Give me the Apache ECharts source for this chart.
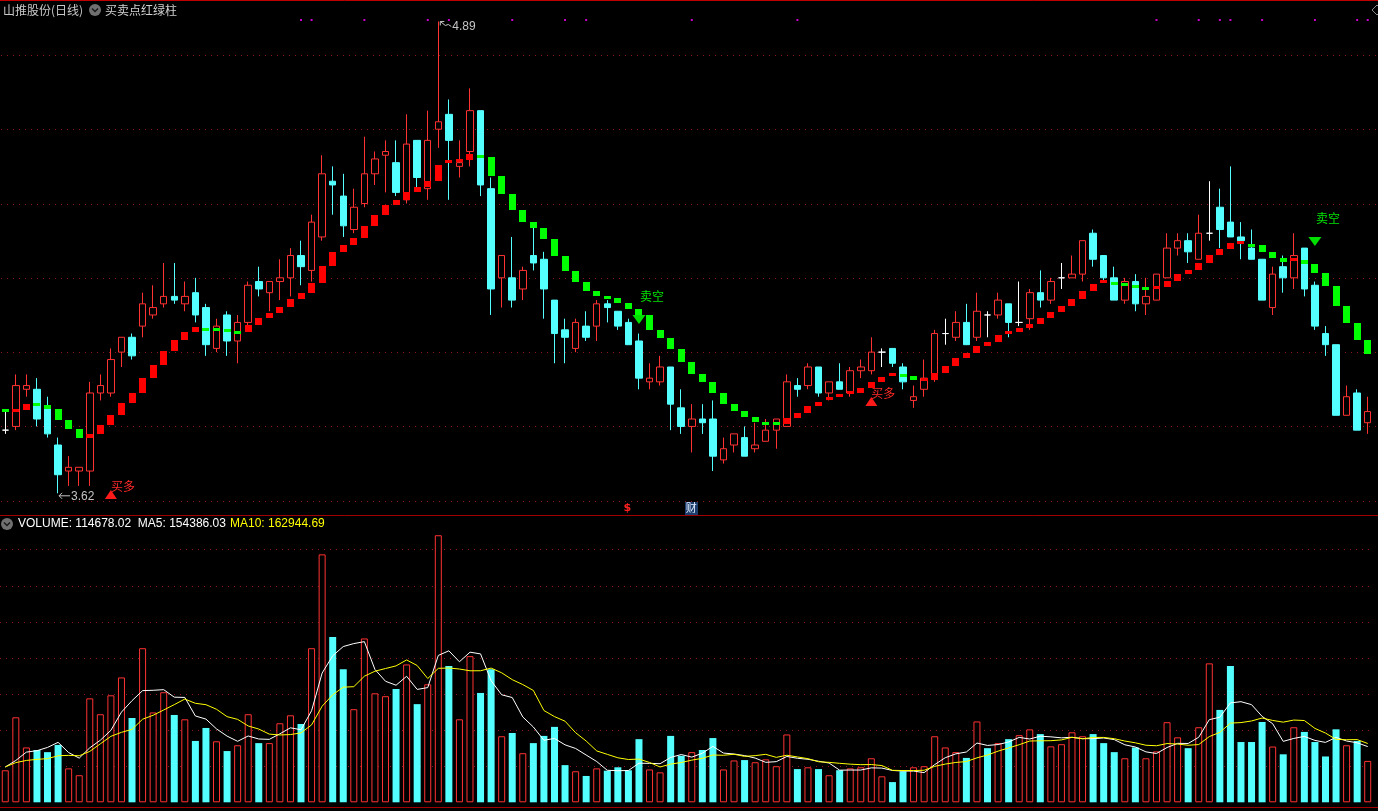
<!DOCTYPE html>
<html><head><meta charset="utf-8">
<script src="https://cdn.jsdelivr.net/npm/echarts@6/dist/echarts.min.js"></script>
<style>html,body{margin:0;padding:0;background:#000;}#c{width:1378px;height:811px;}</style>
</head><body><div id="c"></div>
<script>
// ---------------- data ----------------
const days = Array.from({length: 130}, (_, i) => 'D' + (i + 1));

const openP = [3.79,3.80,3.90,3.90,3.85,3.75,3.68,3.68,3.68,3.89,
3.89,4.00,4.04,4.07,4.10,4.13,4.15,4.13,4.16,4.12,
4.01,4.10,4.03,4.08,4.19,4.16,4.19,4.20,4.26,4.22,
4.31,4.46,4.42,4.33,4.40,4.48,4.53,4.51,4.41,4.57,
4.44,4.60,4.64,4.50,4.54,4.65,4.44,4.20,4.20,4.17,
4.26,4.25,4.14,4.06,4.01,4.07,4.07,4.13,4.11,4.08,
4.03,3.92,3.92,3.96,3.85,3.80,3.82,3.82,3.71,3.75,
3.77,3.74,3.76,3.79,3.80,3.91,3.91,3.96,3.89,3.92,
3.89,3.95,3.95,4.00,4.01,3.96,3.87,3.90,3.93,4.05,
4.04,4.08,4.04,4.10,4.10,4.13,4.08,4.09,4.16,4.14,
4.20,4.20,4.21,4.32,4.26,4.20,4.14,4.19,4.13,4.14,
4.20,4.28,4.30,4.25,4.32,4.39,4.35,4.31,4.28,4.25,
4.12,4.23,4.20,4.28,4.18,4.05,4.02,3.83,3.89,3.81];

const closeP = [3.79,3.91,3.91,3.82,3.78,3.67,3.69,3.69,3.89,3.91,
3.98,4.04,3.99,4.13,4.12,4.15,4.14,4.15,4.10,4.02,
4.07,4.03,4.08,4.18,4.17,4.19,4.20,4.26,4.23,4.35,
4.48,4.45,4.34,4.39,4.48,4.52,4.54,4.43,4.56,4.47,
4.57,4.62,4.57,4.51,4.65,4.45,4.17,4.26,4.14,4.22,
4.24,4.17,4.05,4.04,4.08,4.04,4.13,4.12,4.07,4.02,
3.93,3.93,3.96,3.86,3.80,3.82,3.81,3.72,3.74,3.78,
3.72,3.75,3.79,3.82,3.92,3.90,3.96,3.89,3.92,3.90,
3.95,3.96,4.00,4.00,3.97,3.92,3.88,3.93,4.05,4.05,
4.08,4.02,4.11,4.10,4.14,4.08,4.08,4.16,4.14,4.19,
4.20,4.21,4.30,4.25,4.20,4.14,4.19,4.13,4.15,4.21,
4.28,4.30,4.27,4.32,4.32,4.33,4.31,4.30,4.25,4.14,
4.21,4.20,4.26,4.17,4.07,4.02,3.83,3.88,3.79,3.84];

const lowP = [3.78,3.79,3.88,3.80,3.77,3.62,3.64,3.64,3.64,3.87,
3.88,3.96,3.98,4.04,4.09,4.12,4.13,4.11,4.08,3.99,
4.00,3.99,3.97,4.07,4.15,4.11,4.14,4.15,4.18,4.19,
4.30,4.37,4.31,4.32,4.39,4.45,4.43,4.42,4.40,4.44,
4.41,4.55,4.41,4.47,4.50,4.42,4.10,4.12,4.12,4.14,
4.22,4.09,3.97,3.97,4.00,4.03,4.03,4.08,4.06,4.02,
3.90,3.90,3.91,3.79,3.78,3.73,3.78,3.68,3.70,3.73,
3.72,3.73,3.76,3.74,3.80,3.88,3.90,3.88,3.87,3.90,
3.88,3.93,3.94,3.96,3.96,3.90,3.85,3.88,3.92,4.02,
4.03,4.02,4.03,4.04,4.09,4.04,4.07,4.06,4.12,4.13,
4.17,4.20,4.19,4.23,4.19,4.14,4.13,4.11,4.10,4.14,
4.20,4.26,4.24,4.25,4.30,4.28,4.31,4.25,4.25,4.14,
4.10,4.16,4.17,4.15,4.06,3.99,3.83,3.83,3.79,3.78];

const highP = [3.84,3.94,3.94,3.93,3.88,3.77,3.72,3.69,3.92,3.94,
4.01,4.04,4.05,4.16,4.18,4.24,4.24,4.19,4.20,4.13,
4.09,4.11,4.10,4.19,4.23,4.19,4.25,4.28,4.30,4.37,
4.53,4.50,4.48,4.44,4.58,4.54,4.57,4.57,4.64,4.57,
4.65,4.89,4.68,4.57,4.71,4.65,4.47,4.26,4.31,4.23,
4.35,4.27,4.14,4.09,4.09,4.11,4.14,4.14,4.11,4.09,
4.05,3.97,3.99,3.96,3.90,3.86,3.86,3.87,3.77,3.78,
3.80,3.81,3.82,3.82,3.94,3.93,3.97,3.96,3.92,3.97,
3.96,3.98,4.04,4.01,4.01,3.97,3.91,3.98,4.06,4.09,
4.11,4.13,4.16,4.11,4.16,4.13,4.19,4.17,4.22,4.20,
4.24,4.26,4.30,4.33,4.26,4.23,4.20,4.21,4.20,4.21,
4.32,4.32,4.32,4.37,4.46,4.44,4.50,4.35,4.33,4.25,
4.23,4.26,4.32,4.28,4.19,4.07,4.02,3.91,3.90,3.88];

// buy/sell red-green column indicator: level per day and its side (1 red, -1 green)
const stopVal = [3.844,3.844,3.860,3.858,3.847,3.818,3.794,3.770,3.780,3.804,
3.831,3.863,3.889,3.930,3.965,4.003,4.033,4.054,4.068,4.062,
4.060,4.057,4.054,4.073,4.092,4.105,4.121,4.143,4.159,4.186,
4.232,4.270,4.288,4.307,4.340,4.369,4.396,4.410,4.431,4.445,
4.461,4.504,4.512,4.517,4.533,4.526,4.474,4.426,4.383,4.350,
4.334,4.305,4.259,4.218,4.189,4.165,4.151,4.146,4.132,4.116,
4.100,4.060,4.038,4.008,3.973,3.941,3.920,3.890,3.860,3.842,
3.825,3.812,3.809,3.807,3.823,3.836,3.855,3.866,3.874,3.882,
3.890,3.903,3.920,3.933,3.941,3.936,3.925,3.925,3.944,3.963,
3.984,3.998,4.017,4.027,4.046,4.054,4.065,4.076,4.092,4.108,
4.124,4.143,4.165,4.183,4.189,4.186,4.183,4.176,4.171,4.175,
4.191,4.210,4.221,4.240,4.261,4.278,4.294,4.294,4.288,4.270,
4.253,4.243,4.248,4.237,4.213,4.178,4.124,4.078,4.033,3.995];

const stopDir = [-1,1,1,-1,-1,-1,-1,-1,1,1,
1,1,1,1,1,1,1,1,1,-1,
-1,-1,-1,1,1,1,1,1,1,1,
1,1,1,1,1,1,1,1,1,1,
1,1,1,1,1,-1,-1,-1,-1,-1,
-1,-1,-1,-1,-1,-1,-1,-1,-1,-1,
-1,-1,-1,-1,-1,-1,-1,-1,-1,-1,
-1,-1,-1,-1,1,1,1,1,1,1,
1,1,1,1,1,-1,-1,1,1,1,
1,1,1,1,1,1,1,1,1,1,
1,1,1,1,1,-1,-1,-1,-1,1,
1,1,1,1,1,1,1,1,-1,-1,
-1,-1,1,-1,-1,-1,-1,-1,-1,-1];

const volume = [88700,235500,152000,145000,139000,159000,94000,75000,288000,244000,
296500,346000,233600,427000,249000,305000,242000,230000,170000,206000,
169000,142000,158000,244000,164000,164000,219000,241000,217000,427000,
687000,458000,369000,258000,454000,302000,294000,314000,382000,272000,
327000,740000,378000,230000,405000,303000,368500,183000,192000,136000,
164000,184000,209000,103000,86000,73000,94000,87600,97000,88700,
175000,91000,83000,184000,129000,139000,145000,178000,91000,116000,
117000,111000,119000,100000,188000,92000,97000,92000,75000,89000,
94000,97000,122000,72000,56000,86000,97000,100000,183000,152000,
139000,123000,224000,150000,164000,175000,186000,202000,189000,155000,
161000,194000,183000,189000,164000,139000,122000,152000,122000,141000,
222000,180000,150000,208000,385000,256000,378000,167000,167000,222500,
154500,133000,208000,195000,167000,127000,202252,158000,170000,114678.02];

// moving-average values before a full window exists
const ma5Head = [97800,116000,139000,143000];
const ma10Head = [98000,110000,116000,119000,121000,129000,130000,129000,141000];

const gridPrices = [3.6,3.8,4.0,4.2,4.4,4.6,4.8];

const signalIdx = [10,60,82,124];
const signalPrice = [3.617,4.088,3.867,4.298];
const signalKind = ['buy','sell','buy','sell'];

const extremeIdx = [41,5];
const extremePrice = [4.89,3.62];
const extremeLabel = ['4.89','3.62'];

const markerIdx = [59,65];
const markerPrice = [3.58,3.58];
const markerText = ['$','财'];

const dotIdx = [28,29,34,40,42,48,53,55,65,75,109,113,115,116,119,124,128,129];
const dotPrice = 4.894;

// ---------------- derived ----------------
function isUp(i){
  if (closeP[i] !== openP[i]) return closeP[i] > openP[i];
  return i === 0 || closeP[i] >= closeP[i-1];
}
function movingAvg(n, head){
  return volume.map((v,i)=>{
    if (i < head.length) return head[i];
    let s = 0; for (let k=i-n+1;k<=i;k++) s += volume[k];
    return s/n;
  });
}
const ma5 = movingAvg(5, ma5Head);
const ma10 = movingAvg(10, ma10Head);

const UP = '#ff3232', DOWN = '#54ffff', DOT = '#8e1616';

const chart = echarts.init(document.getElementById('c'), null, {renderer:'canvas'});

const hiddenX = (gi)=>({type:'category', gridIndex:gi, data:days, boundaryGap:true,
  axisLine:{show:false}, axisTick:{show:false}, axisLabel:{show:false}, splitLine:{show:false}});

const option = {
  backgroundColor:'#000000',
  animation:false,
  grid:[
    {left:-1, width:1374, top:2.9, height:512.7},
    {left:-1, width:1374, top:531.64, height:270.66}
  ],
  xAxis:[hiddenX(0), hiddenX(1)],
  yAxis:[
    {type:'value', gridIndex:0, min:3.56, max:4.94, show:false, splitLine:{show:false}},
    {type:'value', gridIndex:1, min:0, max:750000, interval:100000,
     axisLine:{show:false}, axisTick:{show:false}, axisLabel:{show:false},
     splitLine:{show:true, showMinLine:false, showMaxLine:false, lineStyle:{color:DOT, width:1, type:[1,5]}}}
  ],
  series:[
    { // dotted price grid
      type:'custom', xAxisIndex:0, yAxisIndex:0, z:0, silent:true,
      data: gridPrices.map(p=>[0,p]),
      renderItem(params, api){
        const cs = params.coordSys;
        const y = Math.round(api.coord([0, api.value(1)])[1]) + 0.5;
        return {type:'line', shape:{x1:cs.x+1, y1:y, x2:cs.x+cs.width+6, y2:y},
          style:{stroke:DOT, lineWidth:1, lineDash:[1,5]}};
      }
    },
    {
      type:'candlestick', xAxisIndex:0, yAxisIndex:0, z:2,
      barWidth:7,
      data: openP.map((o,i)=>[o, closeP[i], lowP[i], highP[i]]),
      itemStyle:{color:'#000000', color0:DOWN, borderColor:UP, borderColor0:DOWN,
        borderColorDoji:'#ffffff', borderWidth:1}
    },
    { // red/green column indicator
      type:'custom', xAxisIndex:0, yAxisIndex:0, z:3, silent:true,
      data: stopVal.map((v,i)=>[i, v, stopDir[i]]),
      renderItem(params, api){
        const i = params.dataIndex;
        const cur = api.coord([i, stopVal[i]]);
        const prev = api.coord([i, i>0 ? stopVal[i-1] : stopVal[i]]);
        let y0 = Math.min(cur[1], prev[1]), y1 = Math.max(cur[1], prev[1]);
        if (y1 - y0 < 3) { y0 = cur[1]-1.5; y1 = cur[1]+1.5; }
        return {type:'rect', shape:{x:Math.round(cur[0]-3.5), y:Math.round(y0), width:7, height:Math.max(3, Math.round(y1-y0))},
          style:{fill: stopDir[i] > 0 ? '#ff0000' : '#00ff00'}};
      }
    },
    { // top magenta dots
      type:'scatter', xAxisIndex:0, yAxisIndex:0, z:3, silent:true,
      symbol:'rect', symbolSize:2,
      data: dotIdx.map(i=>[i, dotPrice]),
      itemStyle:{color:'#ff00ff'}
    },
    { // buy / sell signals
      type:'custom', xAxisIndex:0, yAxisIndex:0, z:5, silent:true,
      data: signalIdx.map((i,k)=>[i, signalPrice[k], k]),
      renderItem(params, api){
        const k = params.dataIndex;
        const p = api.coord([api.value(0), api.value(1)]);
        const cx = p[0], cy = p[1];
        if (signalKind[k] === 'buy') {
          return {type:'group', children:[
            {type:'polygon', shape:{points:[[cx-6,cy+4.5],[cx+6,cy+4.5],[cx,cy-4.5]]}, style:{fill:'#ff1a1a'}},
            {type:'text', style:{x:cx, y:cy-8, text:'买多', fill:'#ff2a2a', font:'12px "Noto Sans CJK SC"', align:'left', verticalAlign:'middle'}}
          ]};
        }
        return {type:'group', children:[
          {type:'polygon', shape:{points:[[cx-6.5,cy-4.5],[cx+6.5,cy-4.5],[cx,cy+4.5]]}, style:{fill:'#00e000'}},
          {type:'text', style:{x:cx+1, y:cy-22.5, text:'卖空', fill:'#00e400', font:'12px "Noto Sans CJK SC"', align:'left', verticalAlign:'middle'}}
        ]};
      }
    },
    { // highest / lowest labels
      type:'custom', xAxisIndex:0, yAxisIndex:0, z:5, silent:true,
      data: extremeIdx.map((i,k)=>[i, extremePrice[k], k]),
      renderItem(params, api){
        const k = params.dataIndex;
        const p = api.coord([api.value(0), api.value(1)]);
        const x = p[0], y = p[1];
        const col = '#c4c4c4';
        if (k === 0) {
          return {type:'group', children:[
            {type:'polyline', shape:{points:[[x+2,y],[x+7,y+4],[x+10,y+3],[x+13,y+5]]}, style:{stroke:col, lineWidth:1, fill:null}},
            {type:'polyline', shape:{points:[[x+2,y+4],[x+2,y],[x+6,y]]}, style:{stroke:col, lineWidth:1, fill:null}},
            {type:'text', style:{x:x+14, y:y+5.5, text:extremeLabel[k], fill:col, font:'12px "Liberation Sans"', align:'left', verticalAlign:'middle'}}
          ]};
        }
        return {type:'group', children:[
          {type:'line', shape:{x1:x+1, y1:y+2.5, x2:x+12, y2:y+2.5}, style:{stroke:col, lineWidth:1}},
          {type:'polyline', shape:{points:[[x+4,y-0.5],[x+1,y+2.5],[x+4,y+5.5]]}, style:{stroke:col, lineWidth:1, fill:null}},
          {type:'text', style:{x:x+13, y:y+3, text:extremeLabel[k], fill:col, font:'12px "Liberation Sans"', align:'left', verticalAlign:'middle'}}
        ]};
      }
    },
    { // event markers
      type:'custom', xAxisIndex:0, yAxisIndex:0, z:5, silent:true,
      data: markerIdx.map((i,k)=>[i, markerPrice[k], k]),
      renderItem(params, api){
        const k = params.dataIndex;
        const p = api.coord([api.value(0), api.value(1)]);
        const cx = p[0], cy = p[1];
        if (markerText[k] === '$') {
          return {type:'text', style:{x:cx-1, y:cy, text:'$', fill:'#ff2020', font:'bold 11px "DejaVu Sans"', align:'center', verticalAlign:'middle'}};
        }
        return {type:'group', children:[
          {type:'rect', shape:{x:Math.round(cx-7), y:Math.round(cy-6.5), width:13, height:13}, style:{fill:'#1d3d6c'}},
          {type:'text', style:{x:cx-0.5, y:cy, text:markerText[k], fill:'#e0ecff', font:'11px "Noto Sans CJK SC"', align:'center', verticalAlign:'middle'}}
        ]};
      }
    },
    {
      type:'bar', xAxisIndex:1, yAxisIndex:1, z:2, barWidth:7, silent:true,
      data: volume.map((v,i)=> isUp(i)
        ? {value:v, itemStyle:{color:'#000000', borderColor:UP, borderWidth:1}}
        : {value:v, itemStyle:{color:DOWN, borderWidth:0}})
    },
    {
      type:'line', xAxisIndex:1, yAxisIndex:1, z:3, silent:true, showSymbol:false, symbol:'none',
      data: ma5, lineStyle:{color:'#ffffff', width:1}
    },
    {
      type:'line', xAxisIndex:1, yAxisIndex:1, z:3, silent:true, showSymbol:false, symbol:'none',
      data: ma10, lineStyle:{color:'#ffff00', width:1}
    }
  ],
  graphic:[
    {type:'line', shape:{x1:0, y1:0.5, x2:1378, y2:0.5}, style:{stroke:'#c00000', lineWidth:1}},
    {type:'line', shape:{x1:0, y1:515.5, x2:1378, y2:515.5}, style:{stroke:'#a00000', lineWidth:1}},
    {type:'line', shape:{x1:0, y1:807.5, x2:1378, y2:807.5}, style:{stroke:'#a00000', lineWidth:1}},
    {type:'text', x:3, y:10, style:{text:'山推股份(日线)', fill:'#c8c8c8', font:'12px "Noto Sans CJK SC"', verticalAlign:'middle'}},
    {type:'circle', shape:{cx:95, cy:10, r:6}, style:{fill:'#707070'}},
    {type:'polyline', shape:{points:[[92,8.5],[95,11.5],[98,8.5]]}, style:{stroke:'#1a1a1a', lineWidth:1.5, fill:null}},
    {type:'text', x:105, y:10, style:{text:'买卖点红绿柱', fill:'#d0d0d0', font:'12px "Noto Sans CJK SC"', verticalAlign:'middle'}},
    {type:'circle', shape:{cx:7, cy:524, r:6}, style:{fill:'#707070'}},
    {type:'polyline', shape:{points:[[4,522.5],[7,525.5],[10,522.5]]}, style:{stroke:'#1a1a1a', lineWidth:1.5, fill:null}},
    {type:'text', x:18, y:524, style:{text:'VOLUME: 114678.02  MA5: 154386.03', fill:'#ffffff', font:'12px "Liberation Sans"', verticalAlign:'middle'}},
    {type:'text', x:230, y:524, style:{text:'MA10: 162944.69', fill:'#ffff00', font:'12px "Liberation Sans"', verticalAlign:'middle'}},
    {type:'polygon', shape:{points:[[1377,5],[1372,10],[1377,15],[1382,10]]}, style:{stroke:'#8a8a8a', fill:null, lineWidth:1}}
  ]
};
chart.setOption(option);
</script>
</body></html>
